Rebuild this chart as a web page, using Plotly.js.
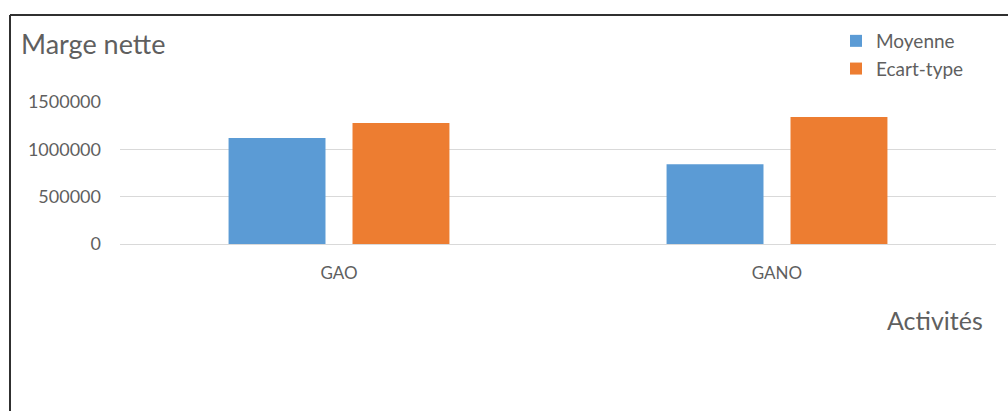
<!DOCTYPE html>
<html>
<head>
<meta charset="utf-8">
<script src="https://cdn.plot.ly/plotly-3.0.1.min.js"></script>
<style>
html,body{margin:0;padding:0;background:#fff;}
#chart{width:1008px;height:411px;}
</style>
</head>
<body>
<div id="chart"></div>
<script>
const categories = ["GAO", "GANO"];
const moyenne = [1119000, 843000];
const ecartType = [1278000, 1342000];
const seriesNames = ["Moyenne", "Ecart-type"];
const yTicks = [0, 500000, 1000000, 1500000];
const yTickLabels = ["0", "500000", "1000000", "1500000"];

const W = 1008, H = 411;
const M = {l: 120, r: 12, t: 102, b: 167};
const pw = W - M.l - M.r, ph = H - M.t - M.b;
const px = x => (x - M.l) / pw;
const py = y => (H - M.b - y) / ph;

const txt = '#5f5f5f';
const font = 'Lato, "Open Sans", sans-serif';

const data = [
  {type: 'bar', name: seriesNames[0], x: categories, y: moyenne, marker: {color: '#5B9BD5'}},
  {type: 'bar', name: seriesNames[1], x: categories, y: ecartType, marker: {color: '#ED7D31'}}
];

const layout = {
  width: W, height: H,
  margin: M,
  paper_bgcolor: '#fff', plot_bgcolor: '#fff',
  font: {family: font, color: txt},
  barmode: 'group',
  bargap: 0.434,
  bargroupgap: 0.218,
  title: {text: 'Marge nette', x: 21 / W, xanchor: 'left', xref: 'container',
          y: 1 - 45 / H, yanchor: 'middle', yref: 'container',
          font: {size: 27, color: txt, family: font}},
  xaxis: {showgrid: false, zeroline: false, showline: false, ticks: '',
          tickfont: {size: 17, color: txt}, ticklabelstandoff: 17, fixedrange: true},
  yaxis: {range: [0, 1500000], tickvals: yTicks, ticktext: yTickLabels,
          showgrid: true, gridcolor: '#D9D9D9', gridwidth: 1,
          zeroline: true, zerolinecolor: '#D9D9D9', zerolinewidth: 1,
          showline: false, ticks: '', tickfont: {size: 18, color: txt},
          ticklabelstandoff: 18, fixedrange: true},
  showlegend: true,
  legend: {x: px(836), xanchor: 'left', y: py(22), yanchor: 'top',
           font: {size: 19, color: txt}, bgcolor: 'rgba(0,0,0,0)',
           traceorder: 'normal', itemwidth: 30, tracegroupgap: 0},
  annotations: [
    {text: 'Activités', xref: 'paper', yref: 'paper', x: px(985), y: py(320),
     xanchor: 'right', yanchor: 'middle', showarrow: false,
     font: {size: 25, color: txt, family: font}}
  ],
  shapes: [
    {type: 'line', xref: 'paper', yref: 'paper', x0: px(10), x1: px(1008), y0: py(15), y1: py(15),
     line: {color: '#303030', width: 2}},
    {type: 'line', xref: 'paper', yref: 'paper', x0: px(10), x1: px(10), y0: py(15), y1: py(411),
     line: {color: '#303030', width: 2}}
  ]
};

Plotly.newPlot('chart', data, layout, {displayModeBar: false, staticPlot: true});
</script>
</body>
</html>
